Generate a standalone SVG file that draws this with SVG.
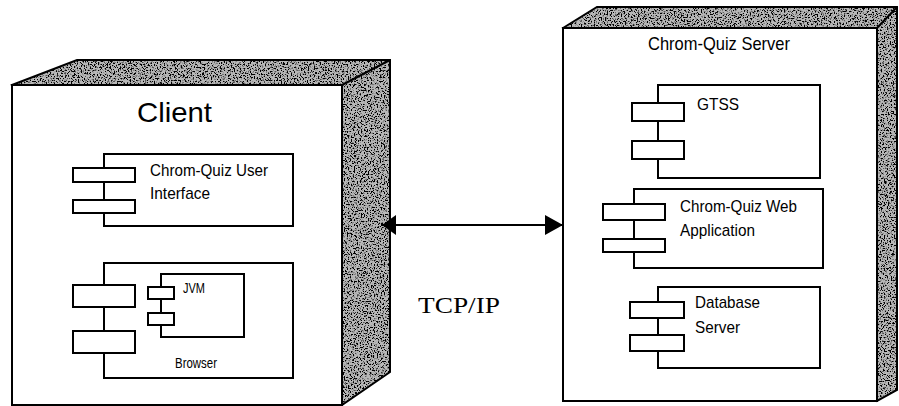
<svg xmlns="http://www.w3.org/2000/svg" width="899" height="406" viewBox="0 0 899 406">
<style>
  .front { fill: #ffffff; stroke: #000; stroke-width: 2; }
  .side { fill: #777; stroke: none; filter: url(#speckle); }
  .edge { fill: none; stroke: #000; stroke-width: 2; stroke-linejoin: miter; }
  .comp { fill: #ffffff; stroke: #000; stroke-width: 2; }
  .tab { fill: #ffffff; stroke: #000; stroke-width: 2; }
  .lbl { font-family: "Liberation Sans", Arial, sans-serif; fill: #000; }
  .conn { stroke: #000; stroke-width: 2; fill: none; }
</style>
<defs>
  <filter id="speckle" x="0" y="0" width="100%" height="100%">
    <feTurbulence type="fractalNoise" baseFrequency="0.7" numOctaves="2" seed="3" result="noise"/>
    <feColorMatrix in="noise" type="matrix" values="0 0 0 0 0  0 0 0 0 0  0 0 0 0 0  0 0 0 -7 3.6" result="mask"/>
    <feFlood flood-color="#000" result="black"/>
    <feComposite in="black" in2="mask" operator="in" result="dots"/>
    <feFlood flood-color="#b8b8b8" result="light"/>
    <feMerge result="tex"><feMergeNode in="light"/><feMergeNode in="dots"/></feMerge>
    <feComposite in="tex" in2="SourceGraphic" operator="in"/>
  </filter>
  <marker id="arrowR" viewBox="0 0 18 20" refX="18" refY="10" markerWidth="18" markerHeight="20" markerUnits="userSpaceOnUse" orient="auto">
    <path d="M0,0 L18,10 L0,20 Z" fill="#000"/>
  </marker>
  <marker id="arrowL" viewBox="0 0 14 20" refX="0" refY="10" markerWidth="14" markerHeight="20" markerUnits="userSpaceOnUse" orient="auto">
    <path d="M14,0 L0,10 L14,20 Z" fill="#000"/>
  </marker>
</defs>

<g id="client">
  <polygon class="side" points="12,85 77,60 390,60 342,85"/>
  <polygon class="side" points="342,85 390,60 390,372 342,405"/>
  <polygon class="edge" points="12,85 77,60 390,60 390,372 342,405"/>
  <line class="edge" x1="342" y1="85" x2="390" y2="60"/>
  <rect class="front" x="12" y="85" width="330" height="320"/>
  <text class="lbl" x="137" y="122" font-size="28" textLength="75" lengthAdjust="spacingAndGlyphs">Client</text>
  <g id="client-ui">
    <rect class="comp" x="104" y="154" width="189" height="72"/>
    <rect class="tab" x="73" y="168" width="62" height="14"/>
    <rect class="tab" x="73" y="200" width="62" height="13"/>
    <text class="lbl" x="150" y="176" font-size="17" textLength="118" lengthAdjust="spacingAndGlyphs">Chrom-Quiz User</text>
    <text class="lbl" x="150" y="199" font-size="17" textLength="60" lengthAdjust="spacingAndGlyphs">Interface</text>
  </g>
  <g id="client-browser">
    <rect class="comp" x="104" y="263" width="189" height="115"/>
    <rect class="tab" x="73" y="285" width="62" height="22"/>
    <rect class="tab" x="73" y="331" width="62" height="22"/>
    <text class="lbl" x="175" y="368" font-size="15" textLength="42" lengthAdjust="spacingAndGlyphs">Browser</text>
    <g id="client-jvm">
      <rect class="comp" x="161" y="274" width="83" height="63"/>
      <rect class="tab" x="148" y="287" width="26" height="12"/>
      <rect class="tab" x="148" y="313" width="26" height="12"/>
      <text class="lbl" x="183" y="293" font-size="15" textLength="22" lengthAdjust="spacingAndGlyphs">JVM</text>
    </g>
  </g>
</g>

<g id="server">
  <polygon class="side" points="563,28 597,7 898,7 877,28"/>
  <polygon class="side" points="877,28 898,7 898,390 877,401"/>
  <polygon class="edge" points="563,28 597,7 897,7 897,390 877,401"/>
  <line class="edge" x1="877" y1="28" x2="897" y2="7"/>
  <rect class="front" x="563" y="28" width="314" height="373"/>
  <text class="lbl" x="648" y="50" font-size="19" textLength="142" lengthAdjust="spacingAndGlyphs">Chrom-Quiz Server</text>
  <g id="server-gtss">
    <rect class="comp" x="658" y="85" width="162" height="93"/>
    <rect class="tab" x="632" y="103" width="52" height="18"/>
    <rect class="tab" x="632" y="141" width="52" height="18"/>
    <text class="lbl" x="697" y="110" font-size="17" textLength="42" lengthAdjust="spacingAndGlyphs">GTSS</text>
  </g>
  <g id="server-webapp">
    <rect class="comp" x="634" y="189" width="189" height="79"/>
    <rect class="tab" x="603" y="204" width="62" height="16"/>
    <rect class="tab" x="603" y="239" width="62" height="13"/>
    <text class="lbl" x="680" y="212" font-size="17" textLength="117" lengthAdjust="spacingAndGlyphs">Chrom-Quiz Web</text>
    <text class="lbl" x="680" y="236" font-size="17" textLength="75" lengthAdjust="spacingAndGlyphs">Application</text>
  </g>
  <g id="server-db">
    <rect class="comp" x="658" y="287" width="162" height="81"/>
    <rect class="tab" x="630" y="302" width="54" height="16"/>
    <rect class="tab" x="630" y="335" width="54" height="16"/>
    <text class="lbl" x="695" y="308" font-size="17" textLength="65" lengthAdjust="spacingAndGlyphs">Database</text>
    <text class="lbl" x="695" y="333" font-size="17" textLength="45" lengthAdjust="spacingAndGlyphs">Server</text>
  </g>
</g>

<g id="connectors">
  <line class="conn" x1="382" y1="225" x2="563" y2="225" marker-start="url(#arrowL)" marker-end="url(#arrowR)"/>
  <text x="418" y="313" font-family="'Liberation Serif', 'Times New Roman', serif" font-size="23" textLength="82" lengthAdjust="spacingAndGlyphs">TCP/IP</text>
</g>
</svg>
